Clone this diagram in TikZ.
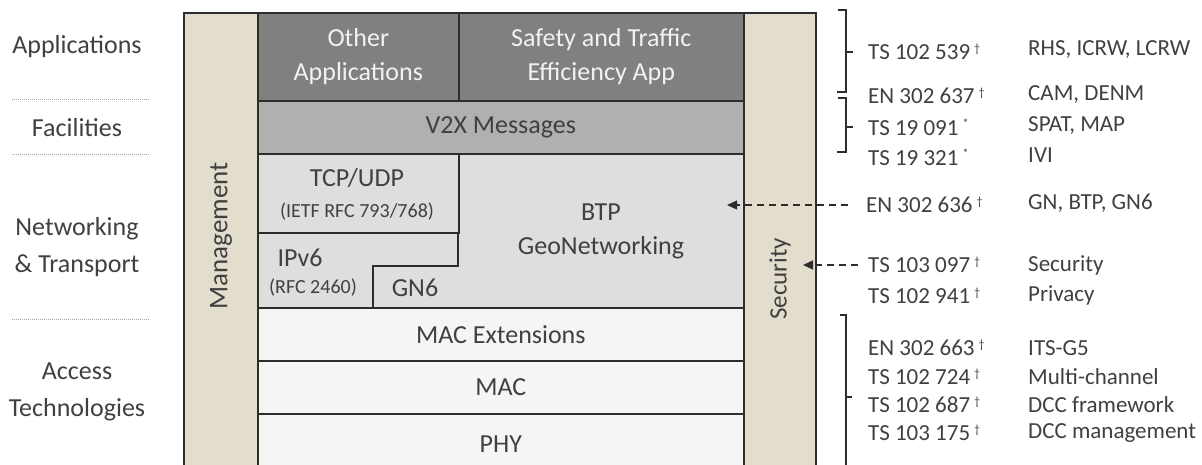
\documentclass[tikz,border=0pt]{standalone}
\usepackage{fontspec}
\setmainfont{Carlito}
\usepackage{xcolor}
\usepackage{tikz}
\usetikzlibrary{positioning, arrows.meta}
\definecolor{textgray}{RGB}{64,64,64}
\definecolor{linegray}{RGB}{45,45,45}
\definecolor{appgray}{RGB}{128,128,128}
\definecolor{msggray}{RGB}{176,176,176}
\definecolor{netgray}{RGB}{222,222,222}
\definecolor{accgray}{RGB}{245,245,245}
\definecolor{sidetan}{RGB}{226,221,205}
\newcommand{\daggermark}{\hspace{4pt}\raisebox{7pt}{\fontsize{12}{12}\selectfont\dag}}
\newcommand{\starmark}{\hspace{4pt}\raisebox{8pt}{\fontsize{12}{12}\selectfont *}}

\begin{document}
\begin{tikzpicture}[
    x=1pt, y=-1pt,
    % Box styles
    layer/.style={draw=linegray, line width=1.6pt, anchor=north west, inner sep=0pt, align=center, text=textgray, font=\fontsize{26}{34}\selectfont},
    appbox/.style={layer, fill=appgray, text=white!95!black},
    msgbox/.style={layer, fill=msggray},
    netbox/.style={layer, fill=netgray},
    accbox/.style={layer, fill=accgray},
    sidebox/.style={layer, fill=sidetan},
    % Text styles
    boxtext/.style={inner sep=0pt, align=center, text=textgray, font=\fontsize{26}{34}\selectfont},
    smalltext/.style={inner sep=0pt, text=textgray, font=\fontsize{20}{24}\selectfont},
    layername/.style={inner sep=0pt, align=center, text=textgray, font=\fontsize{26}{37}\selectfont},
    stdname/.style={anchor=west, inner sep=0pt, text=textgray, font=\fontsize{23}{28}\selectfont},
    % Line styles
    sep/.style={draw=gray!70, densely dotted, line width=1pt},
    brace/.style={draw=linegray, line width=1.3pt},
    link/.style={draw=linegray, line width=1.2pt, dash pattern=on 7pt off 5pt, -{Triangle[length=10pt, width=9pt]}}
]
\useasboundingbox (0,0) rectangle (1202,465);
\clip (0,0) rectangle (1202,465);

% Layer names on the left
\node[layername] (lapp) at (77,47) {Applications};
\node[layername] (lfac) at (77,128) {Facilities};
\node[layername] (lnet) at (77,247) {Networking\\\& Transport};
\node[layername] (lacc) at (77,392) {Access\\Technologies};

\draw[sep] (12,100) -- (150,100);
\draw[sep] (12,155) -- (150,155);
\draw[sep] (12,319) -- (150,319);

% Side columns
\node[sidebox, minimum width=74pt, minimum height=470pt] (mgmt) at (183,12) {};
\node[sidebox, minimum width=72pt, minimum height=470pt] (sec) at (743,12) {};
\node[boxtext, rotate=90, font=\fontsize{27}{30}\selectfont] (mgmttext) at (221,236) {Management};
\node[boxtext, rotate=90, font=\fontsize{25}{30}\selectfont] (sectext) at (780,279) {Security};

% Applications
\node[appbox, minimum width=201pt, minimum height=88pt] (other) at (257,12) {Other\\Applications};
\node[appbox, minimum width=285pt, minimum height=88pt] (safety) at (458,12) {Safety and Traffic\\Efficiency App};

% Facilities
\node[msgbox, minimum width=486pt, minimum height=53pt] (v2x) at (257,100) {V2X Messages};

% Networking & Transport
\node[netbox, minimum width=486pt, minimum height=154pt] (netlayer) at (257,153) {};
\node[netbox, minimum width=201pt, minimum height=79pt] (tcp) at (257,153) {};
\draw[draw=linegray, line width=1.6pt] (458,232) -- (458,266) -- (373,266) -- (373,307);
\node[boxtext] (tcptext) at (357,178) {TCP/UDP};
\node[smalltext] (tcprfc) at (357,212) {(IETF RFC 793/768)};
\node[boxtext] (ipv6) at (300,258) {IPv6};
\node[smalltext] (ipv6rfc) at (313,288) {(RFC 2460)};
\node[boxtext] (gn6) at (415,288) {GN6};
\node[boxtext] (btp) at (601,231) {BTP\\GeoNetworking};

% Access Technologies
\node[accbox, minimum width=486pt, minimum height=53pt] (macext) at (257,307) {MAC Extensions};
\node[accbox, minimum width=486pt, minimum height=53pt] (mac) at (257,360) {MAC};
\node[accbox, minimum width=486pt, minimum height=60pt] (phy) at (257,413) {PHY};

% Standards
\node[stdname] (s539) at (868,52) {TS 102 539\daggermark};
\node[stdname] (s637) at (868,96) {EN 302 637\daggermark};
\node[stdname] (s091) at (868,127) {TS 19 091\starmark};
\node[stdname] (s321) at (868,157) {TS 19 321\starmark};
\node[stdname] (s636) at (866,205) {EN 302 636\daggermark};
\node[stdname] (s097) at (868,265) {TS 103 097\daggermark};
\node[stdname] (s941) at (868,296) {TS 102 941\daggermark};
\node[stdname] (s663) at (868,348) {EN 302 663\daggermark};
\node[stdname] (s724) at (868,377) {TS 102 724\daggermark};
\node[stdname] (s687) at (868,405) {TS 102 687\daggermark};
\node[stdname] (s175) at (868,433) {TS 103 175\daggermark};

% Contents
\node[stdname] (d539) at (1028,50) {RHS, ICRW, LCRW};
\node[stdname] (d637) at (1028,95) {CAM, DENM};
\node[stdname] (d091) at (1028,126) {SPAT, MAP};
\node[stdname] (d321) at (1028,155) {IVI};
\node[stdname] (d636) at (1028,203) {GN, BTP, GN6};
\node[stdname] (d097) at (1028,265) {Security};
\node[stdname] (d941) at (1028,295) {Privacy};
\node[stdname] (d663) at (1028,348) {ITS-G5};
\node[stdname] (d724) at (1028,377) {Multi-channel};
\node[stdname] (d687) at (1028,405) {DCC framework};
\node[stdname] (d175) at (1028,433) {DCC management};

% Brackets
\draw[brace] (838,10) -- (846,10) -- (846,92) -- (837,92);
\draw[brace] (846,52) -- (853,52);
\draw[brace] (838,98) -- (846,98) -- (846,152) -- (837,152);
\draw[brace] (846,127) -- (853,127);
\draw[brace] (840,315) -- (846,315) -- (846,470);
\draw[brace] (846,397) -- (852,397);

% Pointers
\coordinate (btptip) at (727,205);
\coordinate (sectip) at (803,265);
\draw[link, shorten <=18pt] (s636.west) -- (btptip);
\draw[link, shorten <=10pt] (s097.west) -- (sectip);

\end{tikzpicture}
\end{document}
